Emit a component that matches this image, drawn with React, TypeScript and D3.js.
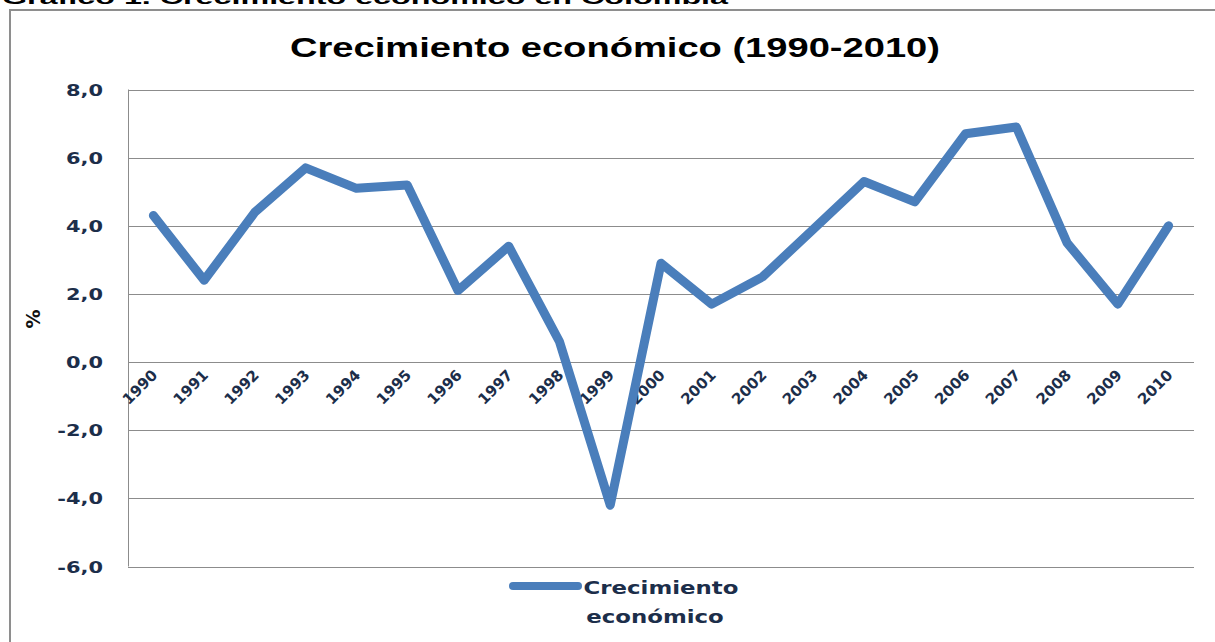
import React, { useEffect, useRef } from "react";
import * as d3 from "d3";

const years = [
  "1990", "1991", "1992", "1993", "1994", "1995", "1996", "1997", "1998", "1999", "2000",
  "2001", "2002", "2003", "2004", "2005", "2006", "2007", "2008", "2009", "2010",
];
const growth = [4.3, 2.4, 4.4, 5.7, 5.1, 5.2, 2.1, 3.4, 0.6, -4.2, 2.9, 1.7, 2.5, 3.9, 5.3, 4.7, 6.7, 6.9, 3.5, 1.7, 4.0];
const yTicks = [-6, -4, -2, 0, 2, 4, 6, 8];
const seriesName = ["Crecimiento", "económico"];

const App = () => {
  const ref = useRef<SVGSVGElement | null>(null);

  useEffect(() => {
    const width = 1215;
    const height = 642;
    const svg = d3.select(ref.current);
    svg.selectAll("*").remove();

    const x = d3.scaleBand().domain(years).range([128, 1194]).padding(0);
    const y = d3.scaleLinear().domain([-6, 8]).range([566.5, 89.5]);
    const cx = (d: string) => (x(d) as number) + x.bandwidth() / 2;
    const navy = "#1c2e4a";
    const blue = "#4a7ebb";

    svg.append("rect").attr("width", width).attr("height", height).attr("fill", "#fff");

    // heading above the chart box, cut off by the page edge as in the source
    svg
      .append("text")
      .attr("x", 2)
      .attr("y", 4)
      .attr("textLength", 726)
      .attr("lengthAdjust", "spacingAndGlyphs")
      .attr("font-family", "Liberation Sans, Arial")
      .attr("font-weight", "bold")
      .attr("font-size", 18)
      .text("Gráfico 1. Crecimiento económico en Colombia");

    // chart frame
    svg
      .append("path")
      .attr("d", `M10,${height + 5} L10,10 L${width + 5},10`)
      .attr("fill", "none")
      .attr("stroke", "#8e8e8e")
      .attr("stroke-width", 2);

    svg
      .append("text")
      .attr("x", 615)
      .attr("y", 57)
      .attr("text-anchor", "middle")
      .attr("textLength", 650)
      .attr("lengthAdjust", "spacingAndGlyphs")
      .attr("font-family", "Liberation Sans, Arial")
      .attr("font-weight", "bold")
      .attr("font-size", 27)
      .text("Crecimiento económico (1990-2010)");

    // gridlines
    svg
      .append("g")
      .selectAll("line")
      .data(yTicks)
      .enter()
      .append("line")
      .attr("x1", 128)
      .attr("x2", 1194)
      .attr("y1", (d) => Math.round(y(d)) + 0.5)
      .attr("y2", (d) => Math.round(y(d)) + 0.5)
      .attr("stroke", "#8c8c8c")
      .attr("stroke-width", 1);

    svg
      .append("line")
      .attr("x1", 128.5)
      .attr("x2", 128.5)
      .attr("y1", y(8))
      .attr("y2", y(-6))
      .attr("stroke", "#8c8c8c");

    // y tick labels (stretched like the source image)
    svg
      .append("g")
      .selectAll("text")
      .data(yTicks)
      .enter()
      .append("text")
      .attr("transform", (d) => `translate(103,${y(d) + 6}) scale(1.35,1)`)
      .attr("text-anchor", "end")
      .attr("font-family", "DejaVu Sans")
      .attr("font-weight", "bold")
      .attr("font-size", 15.5)
      .attr("fill", navy)
      .text((d) => d3.format(".1f")(d).replace(".", ",").replace("−", "-"));

    svg
      .append("text")
      .attr("transform", "translate(40,319) rotate(-90)")
      .attr("text-anchor", "middle")
      .attr("font-family", "DejaVu Sans")
      .attr("font-weight", "bold")
      .attr("font-size", 19)
      .attr("fill", "#111")
      .text("%");

    // x tick labels, rotated
    svg
      .append("g")
      .selectAll("text")
      .data(years)
      .enter()
      .append("text")
      .attr("transform", (d) => `translate(${cx(d) + 5},${y(0) + 14}) rotate(-45)`)
      .attr("text-anchor", "end")
      .attr("font-family", "DejaVu Sans")
      .attr("font-weight", "bold")
      .attr("font-size", 15)
      .attr("fill", navy)
      .text((d) => d);

    const line = d3
      .line<number>()
      .x((_, i) => cx(years[i]))
      .y((d) => y(d));

    svg
      .append("path")
      .datum(growth)
      .attr("d", line)
      .attr("fill", "none")
      .attr("stroke", blue)
      .attr("stroke-width", 9)
      .attr("stroke-linejoin", "round")
      .attr("stroke-linecap", "round");

    // legend
    svg
      .append("line")
      .attr("x1", 513)
      .attr("x2", 578)
      .attr("y1", 586)
      .attr("y2", 586)
      .attr("stroke", blue)
      .attr("stroke-width", 8)
      .attr("stroke-linecap", "round");

    svg
      .append("g")
      .selectAll("text")
      .data(seriesName)
      .enter()
      .append("text")
      .attr("transform", (d, i) => `translate(${i === 0 ? 661 : 655},${594 + i * 29}) scale(1.27,1)`)
      .attr("text-anchor", "middle")
      .attr("font-family", "DejaVu Sans")
      .attr("font-weight", "bold")
      .attr("font-size", 18)
      .attr("fill", navy)
      .text((d) => d);
  }, []);

  return (
    <svg
      ref={ref}
      width={1215}
      height={642}
      style={{ position: "absolute", left: 0, top: 0 }}
    />
  );
};

export default App;
